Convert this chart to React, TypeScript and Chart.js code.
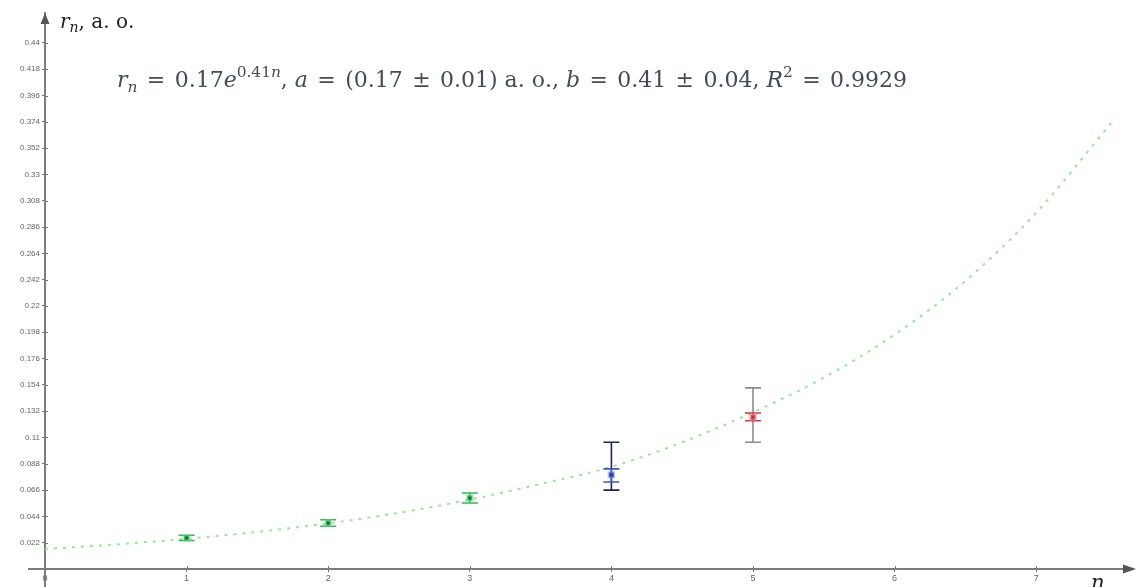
import React, { useEffect, useRef } from "react";
import { Chart, registerables } from "chart.js";

Chart.register(...registerables);

// ---- data ----
const nValues = [1, 2, 3, 4, 5];
const rValues = [0.026, 0.0385, 0.0594, 0.0787, 0.127];
const innerLow = [0.0238, 0.0358, 0.0552, 0.0728, 0.124];
const innerHigh = [0.0282, 0.0412, 0.0636, 0.0837, 0.1305];
const outerLow: (number | null)[] = [null, null, null, 0.066, 0.106];
const outerHigh: (number | null)[] = [null, null, null, 0.106, 0.1515];

const curveN = [0, 0.5, 1, 1.5, 2, 2.5, 3, 3.5, 4, 4.5, 5, 5.5, 6, 6.5, 7, 7.53];
const curveR = [0.0167, 0.0205, 0.0253, 0.031, 0.0382, 0.047, 0.058, 0.0712, 0.0855, 0.106, 0.131, 0.16, 0.196, 0.241, 0.298, 0.373];

const yTickValues = [0.022, 0.044, 0.066, 0.088, 0.11, 0.132, 0.154, 0.176, 0.198, 0.22, 0.242, 0.264, 0.286, 0.308, 0.33, 0.352, 0.374, 0.396, 0.418, 0.44];
const yTickLabels = ["0.022", "0.044", "0.066", "0.088", "0.11", "0.132", "0.154", "0.176", "0.198", "0.22", "0.242", "0.264", "0.286", "0.308", "0.33", "0.352", "0.374", "0.396", "0.418", "0.44"];
const xTickValues = [0, 1, 2, 3, 4, 5, 6, 7];
const xTickLabels = ["0", "1", "2", "3", "4", "5", "6", "7"];

const formulaParts = [
  { t: "r", it: true, pos: 0 },
  { t: "n", it: true, pos: -1 },
  { t: " = 0.17", it: false, pos: 0 },
  { t: "e", it: true, pos: 0 },
  { t: "0.41", it: false, pos: 1 },
  { t: "n", it: true, pos: 1 },
  { t: ", ", it: false, pos: 0 },
  { t: "a", it: true, pos: 0 },
  { t: " = (0.17 ± 0.01) a. o., ", it: false, pos: 0 },
  { t: "b", it: true, pos: 0 },
  { t: " = 0.41 ± 0.04, ", it: false, pos: 0 },
  { t: "R", it: true, pos: 0 },
  { t: "2", it: false, pos: 1 },
  { t: " = 0.9929", it: false, pos: 0 },
];
const yTitleParts = [
  { t: "r", it: true, pos: 0 },
  { t: "n", it: true, pos: -1 },
  { t: ", a. o.", it: false, pos: 0 },
];
const xTitleParts = [
  { t: "n", it: true, pos: 0 },
  { t: ",", it: false, pos: 0 },
];

// ---- styles ----
const pointColors = ["#0d6b30", "#0d6b30", "#0d6b30", "#1b2c8c", "#c8283c"];
const haloColors = ["rgba(110,230,140,0.55)", "rgba(110,230,140,0.55)", "rgba(110,230,140,0.55)", "rgba(120,150,240,0.5)", "rgba(240,130,140,0.5)"];
const innerBarColors = ["#2fb85a", "#2fb85a", "#2fb85a", "#3a55c8", "#d23a4a"];
const outerBarColors = [null, null, null, "#1c2466", "#8c8c8c"];
const AXIS_COLOR = "#7c7c7c";

const SERIF = "'DejaVu Serif', 'Liberation Serif', serif";

type Part = { t: string; it: boolean; pos: number };

// draws mixed italic / sub / superscript text; width adjustment goes to the spaces around "=" and "±"
function drawRich(ctx: CanvasRenderingContext2D, parts: Part[], x: number, y: number, size: number, color: string, targetWidth?: number) {
  const fontFor = (p: Part) => {
    const s = p.pos === 0 ? size : size * 0.7;
    return `${p.it ? "italic " : ""}${s}px ${SERIF}`;
  };
  const isWide = (t: string, i: number) =>
    t[i] === " " && (t[i - 1] === "=" || t[i + 1] === "=" || t[i - 1] === "±" || t[i + 1] === "±");
  let total = 0;
  let wide = 0;
  parts.forEach((p) => {
    ctx.font = fontFor(p);
    for (let i = 0; i < p.t.length; i++) {
      total += ctx.measureText(p.t[i]).width;
      if (isWide(p.t, i)) wide++;
    }
  });
  const extra = targetWidth && wide ? Math.min(10, Math.max(-3, (targetWidth - total) / wide)) : 0;
  ctx.save();
  ctx.fillStyle = color;
  ctx.textBaseline = "alphabetic";
  ctx.textAlign = "left";
  let cx = x;
  parts.forEach((p) => {
    ctx.font = fontFor(p);
    const dy = p.pos === 1 ? -size * 0.45 : p.pos === -1 ? size * 0.22 : 0;
    for (let i = 0; i < p.t.length; i++) {
      const ch = p.t[i];
      ctx.fillText(ch, cx, y + dy);
      cx += ctx.measureText(ch).width + (isWide(p.t, i) ? extra : 0);
    }
  });
  ctx.restore();
}

const decorPlugin = {
  id: "decor",
  afterDatasetDraw(chart: any, args: any) {
    if (args.index !== 1) return;
    const ctx: CanvasRenderingContext2D = chart.ctx;
    const xs = chart.scales.x;
    const ys = chart.scales.y;
    const cap = 8;
    ctx.save();
    nValues.forEach((n, i) => {
      const px = xs.getPixelForValue(n);
      const bars: [number | null, number | null, string | null][] = [
        [outerLow[i], outerHigh[i], outerBarColors[i]],
        [innerLow[i], innerHigh[i], innerBarColors[i]],
      ];
      bars.forEach(([lo, hi, col]) => {
        if (lo == null || hi == null || !col) return;
        const p1 = ys.getPixelForValue(lo);
        const p2 = ys.getPixelForValue(hi);
        ctx.strokeStyle = col;
        ctx.lineWidth = 1.6;
        ctx.beginPath();
        ctx.moveTo(px, p1);
        ctx.lineTo(px, p2);
        ctx.moveTo(px - cap, p1);
        ctx.lineTo(px + cap, p1);
        ctx.moveTo(px - cap, p2);
        ctx.lineTo(px + cap, p2);
        ctx.stroke();
      });
    });
    ctx.restore();
  },
  afterDraw(chart: any) {
    const ctx: CanvasRenderingContext2D = chart.ctx;
    const xs = chart.scales.x;
    const ys = chart.scales.y;
    const ox = xs.getPixelForValue(0);
    const oy = ys.getPixelForValue(0);
    const area = chart.chartArea;
    ctx.save();
    // axis extensions past the origin
    ctx.strokeStyle = AXIS_COLOR;
    ctx.lineWidth = 2;
    ctx.beginPath();
    ctx.moveTo(ox - 17, oy);
    ctx.lineTo(ox, oy);
    ctx.moveTo(ox, oy);
    ctx.lineTo(ox, oy + 20);
    ctx.stroke();
    ctx.fillStyle = "#555";
    // y arrow
    ctx.beginPath();
    ctx.moveTo(ox, area.top);
    ctx.lineTo(ox - 4.5, area.top + 11);
    ctx.lineTo(ox + 4.5, area.top + 11);
    ctx.closePath();
    ctx.fill();
    // x arrow
    ctx.beginPath();
    ctx.moveTo(area.right + 12, oy);
    ctx.lineTo(area.right - 1, oy - 4.5);
    ctx.lineTo(area.right - 1, oy + 4.5);
    ctx.closePath();
    ctx.fill();
    // small tick marks on the inner side
    ctx.strokeStyle = "#777";
    ctx.lineWidth = 1;
    ctx.beginPath();
    yTickValues.forEach((v) => {
      const py = Math.round(ys.getPixelForValue(v)) + 0.5;
      ctx.moveTo(ox, py);
      ctx.lineTo(ox + 3, py);
    });
    xTickValues.forEach((v) => {
      const px = Math.round(xs.getPixelForValue(v)) + 0.5;
      ctx.moveTo(px, oy);
      ctx.lineTo(px, oy - 3);
    });
    ctx.stroke();
    ctx.restore();

    drawRich(ctx, yTitleParts, ox + 15, 28, 20, "#222");
    drawRich(ctx, xTitleParts, 1091, 589, 21, "#222");
    drawRich(ctx, formulaParts, 117, 87, 22, "#454b55", 790);
  },
};

export default function App() {
  const ref = useRef<HTMLCanvasElement | null>(null);
  useEffect(() => {
    document.body.style.margin = "0";
    document.body.style.overflow = "hidden";
    if (!ref.current) return;
    const chart = new Chart(ref.current, {
      type: "scatter",
      data: {
        datasets: [
          {
            label: "r_n",
            data: nValues.map((n, i) => ({ x: n, y: rValues[i] })),
            pointStyle: "rect",
            pointRadius: 3.5,
            pointBackgroundColor: pointColors,
            pointBorderColor: haloColors,
            pointBorderWidth: 2.5,
            showLine: false,
          },
          {
            label: "fit",
            data: curveN.map((n, i) => ({ x: n, y: curveR[i] })),
            showLine: true,
            borderColor: "#9be49b",
            borderWidth: 2,
            borderDash: [3, 6],
            pointRadius: 0,
            cubicInterpolationMode: "monotone",
            fill: false,
          },
        ],
      },
      options: {
        animation: false,
        responsive: false,
        layout: { padding: { left: 0, right: 15, top: 13, bottom: 0 } },
        plugins: { legend: { display: false }, tooltip: { enabled: false } },
        scales: {
          x: {
            type: "linear",
            position: "bottom",
            min: 0,
            max: 7.62,
            afterBuildTicks: (s: any) => {
              s.ticks = xTickValues.map((v) => ({ value: v }));
            },
            afterFit: (s: any) => {
              s.height = 18;
            },
            ticks: {
              autoSkip: false,
              maxRotation: 0,
              padding: 1,
              color: "#666",
              font: { family: "'Liberation Sans', sans-serif", size: 9 },
              callback: (_v: any, i: number) => xTickLabels[i],
            },
            grid: { drawOnChartArea: false, drawTicks: true, tickLength: 3, color: "#777" },
            border: { display: true, color: AXIS_COLOR, width: 2 },
          },
          y: {
            type: "linear",
            position: "left",
            min: 0,
            max: 0.465,
            afterBuildTicks: (s: any) => {
              s.ticks = yTickValues.map((v) => ({ value: v }));
            },
            afterFit: (s: any) => {
              s.width = 45;
            },
            ticks: {
              autoSkip: false,
              padding: 2,
              color: "#666",
              font: { family: "'Liberation Sans', sans-serif", size: 8 },
              callback: (_v: any, i: number) => yTickLabels[i],
            },
            grid: { drawOnChartArea: false, drawTicks: true, tickLength: 3, color: "#777" },
            border: { display: true, color: AXIS_COLOR, width: 2 },
          },
        },
      },
      plugins: [decorPlugin],
    } as any);
    return () => chart.destroy();
  }, []);
  return (
    <div style={{ width: 1139, height: 587 }}>
      <canvas ref={ref} width={1139} height={587} style={{ display: "block" }} />
    </div>
  );
}
